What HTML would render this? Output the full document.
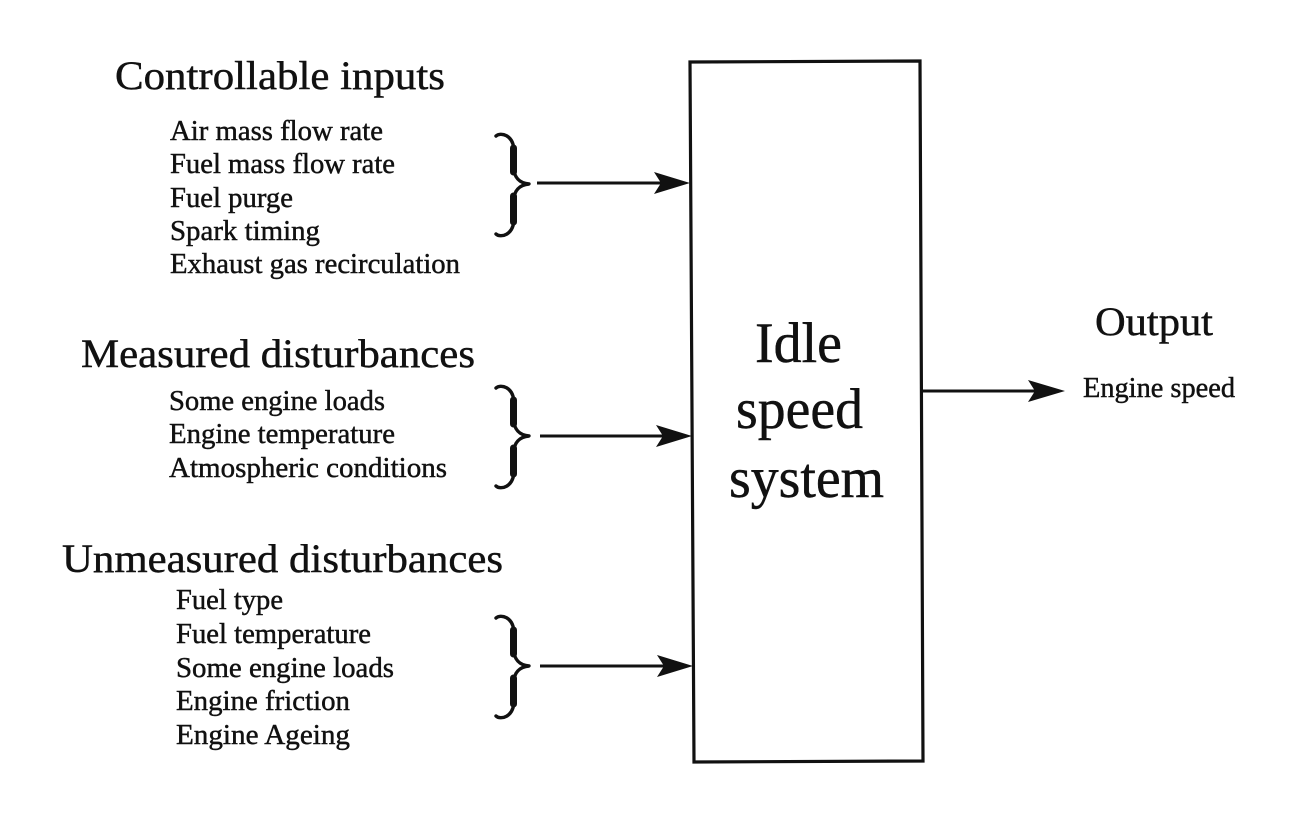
<!DOCTYPE html>
<html>
<head>
<meta charset="utf-8">
<style>
  html, body { margin: 0; padding: 0; background: #ffffff; }
  svg { display: block; }
  text { font-family: "Liberation Serif", "Times New Roman", serif; fill: #111; stroke: #111; stroke-width: 0.45; }
</style>
</head>
<body>
<svg width="1300" height="823" viewBox="0 0 1300 823" xmlns="http://www.w3.org/2000/svg">
  <rect x="0" y="0" width="1300" height="823" fill="#ffffff"/>

  <!-- Main box -->
  <polygon points="690,62 920,61 923,761 694,762" fill="none" stroke="#111" stroke-width="3.2"/>

  <!-- Box label -->
  <text x="755" y="362" font-size="57" textLength="87" lengthAdjust="spacingAndGlyphs">Idle</text>
  <text x="736" y="428" font-size="57" textLength="127" lengthAdjust="spacingAndGlyphs">speed</text>
  <text x="729" y="497" font-size="57" textLength="155" lengthAdjust="spacingAndGlyphs">system</text>

  <!-- Group 1: Controllable inputs -->
  <text x="115" y="89" font-size="40" textLength="330" lengthAdjust="spacingAndGlyphs">Controllable inputs</text>
  <text x="170" y="140" font-size="28" textLength="213" lengthAdjust="spacingAndGlyphs">Air mass flow rate</text>
  <text x="170" y="173" font-size="28" textLength="225" lengthAdjust="spacingAndGlyphs">Fuel mass flow rate</text>
  <text x="170" y="207" font-size="28" textLength="123" lengthAdjust="spacingAndGlyphs">Fuel purge</text>
  <text x="170" y="240" font-size="28" textLength="150" lengthAdjust="spacingAndGlyphs">Spark timing</text>
  <text x="170" y="273" font-size="28" textLength="290" lengthAdjust="spacingAndGlyphs">Exhaust gas recirculation</text>

  <!-- Group 2: Measured disturbances -->
  <text x="81" y="367" font-size="40" textLength="394" lengthAdjust="spacingAndGlyphs">Measured disturbances</text>
  <text x="169" y="410" font-size="28" textLength="216" lengthAdjust="spacingAndGlyphs">Some engine loads</text>
  <text x="169" y="443" font-size="28" textLength="226" lengthAdjust="spacingAndGlyphs">Engine temperature</text>
  <text x="169" y="477" font-size="28" textLength="278" lengthAdjust="spacingAndGlyphs">Atmospheric conditions</text>

  <!-- Group 3: Unmeasured disturbances -->
  <text x="62" y="572" font-size="40" textLength="441" lengthAdjust="spacingAndGlyphs">Unmeasured disturbances</text>
  <text x="176" y="609" font-size="28" textLength="107" lengthAdjust="spacingAndGlyphs">Fuel type</text>
  <text x="176" y="643" font-size="28" textLength="195" lengthAdjust="spacingAndGlyphs">Fuel temperature</text>
  <text x="176" y="677" font-size="28" textLength="218" lengthAdjust="spacingAndGlyphs">Some engine loads</text>
  <text x="176" y="710" font-size="28" textLength="174" lengthAdjust="spacingAndGlyphs">Engine friction</text>
  <text x="176" y="744" font-size="28" textLength="174" lengthAdjust="spacingAndGlyphs">Engine Ageing</text>

  <!-- Output -->
  <text x="1095" y="335" font-size="40" textLength="118" lengthAdjust="spacingAndGlyphs">Output</text>
  <text x="1083" y="397" font-size="28" textLength="152" lengthAdjust="spacingAndGlyphs">Engine speed</text>

  <!-- Braces -->
  <g fill="none" stroke="#111" stroke-linecap="round" stroke-linejoin="round">
    <!-- Brace 1 -->
    <path stroke-width="3.4" d="M496,136 C500,132 514,134 514,152 L514,168 C514,177 519,183 529,184 C519,185 514,191 514,200 L514,218 C514,236 500,238 496,234"/>
    <path stroke-width="7" d="M513.5,148 L513.5,172 M513.5,196 L513.5,222"/>
    <!-- Brace 2 -->
    <path stroke-width="3.4" d="M496,388 C500,384 514,386 514,404 L514,420 C514,429 519,435 529,436 C519,437 514,443 514,452 L514,470 C514,488 500,490 496,486"/>
    <path stroke-width="7" d="M513.5,400 L513.5,424 M513.5,448 L513.5,474"/>
    <!-- Brace 3 -->
    <path stroke-width="3.4" d="M496,618 C500,614 514,616 514,634 L514,650 C514,659 519,665 529,666 C519,667 514,673 514,682 L514,700 C514,718 500,720 496,716"/>
    <path stroke-width="7" d="M513.5,630 L513.5,654 M513.5,678 L513.5,704"/>
  </g>

  <!-- Arrows -->
  <g stroke="#111" stroke-width="3" fill="none">
    <line x1="537" y1="183" x2="662" y2="183"/>
    <line x1="540" y1="436" x2="664" y2="436"/>
    <line x1="540" y1="666" x2="665" y2="666"/>
    <line x1="922" y1="391" x2="1036" y2="391"/>
  </g>
  <g fill="#111">
    <polygon points="690,183 654,172 661,183 654,194"/>
    <polygon points="692,436 656,425 663,436 656,447"/>
    <polygon points="693,666 657,655 664,666 657,677"/>
    <polygon points="1065,391 1028,380 1035,391 1028,402"/>
  </g>
</svg>
</body>
</html>
